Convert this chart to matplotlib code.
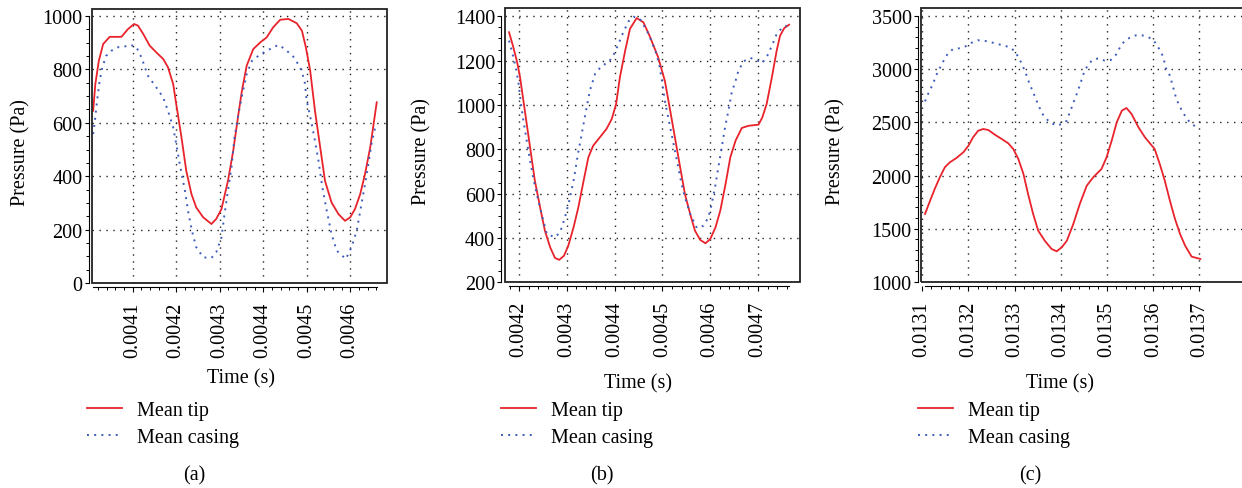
import numpy as np
import matplotlib
matplotlib.use("Agg")
import matplotlib.pyplot as plt
from matplotlib.patches import Rectangle
from matplotlib.ticker import MultipleLocator, FixedLocator, FormatStrFormatter

plt.rcParams['font.family'] = ['Liberation Serif', 'DejaVu Serif']
plt.rcParams['font.size'] = 14.5

# ---- panel (a) ----
a_tip_t = [0.004009, 0.004014, 0.004022, 0.004032, 0.004047, 0.004074, 0.004089, 0.004103,
           0.004112, 0.004124, 0.004139, 0.004154, 0.004170, 0.004181, 0.004193, 0.004200,
           0.004212, 0.004223, 0.004235, 0.004246, 0.004262, 0.004281, 0.004292, 0.004304,
           0.004319, 0.004331, 0.004343, 0.004351, 0.004362, 0.004377, 0.004393, 0.004408,
           0.004423, 0.004439, 0.004458, 0.004477, 0.004489, 0.004498, 0.004508, 0.004519,
           0.004531, 0.004542, 0.004557, 0.004573, 0.004588, 0.004600, 0.004611, 0.004623,
           0.004634, 0.004646, 0.004661]
a_tip_p = [645, 745, 832, 895, 922, 922, 951, 970,
           964, 933, 889, 864, 839, 808, 745, 670,
           546, 421, 333, 283, 246, 221, 240, 277,
           383, 495, 633, 720, 814, 876, 901, 920,
           958, 986, 989, 973, 945, 883, 795, 645,
           508, 383, 302, 258, 233, 246, 277, 333,
           408, 508, 677]
a_cas_t = [0.004009, 0.004013, 0.004018, 0.004024, 0.004030, 0.004039, 0.004051, 0.004066,
           0.004082, 0.004094, 0.004108, 0.004120, 0.004135, 0.004154, 0.004170, 0.004181,
           0.004193, 0.004200, 0.004208, 0.004220, 0.004227, 0.004236, 0.004246, 0.004262,
           0.004281, 0.004292, 0.004304, 0.004311, 0.004319, 0.004327, 0.004334, 0.004343,
           0.004352, 0.004362, 0.004374, 0.004389, 0.004408, 0.004435, 0.004450, 0.004469,
           0.004485, 0.004495, 0.004500, 0.004510, 0.004519, 0.004527, 0.004536, 0.004546,
           0.004557, 0.004569, 0.004590, 0.004603, 0.004615, 0.004626, 0.004638, 0.004649,
           0.004659]
a_cas_p = [558, 608, 683, 758, 808, 851, 870, 883,
           886, 892, 885, 845, 776, 733, 695, 645,
           583, 521, 446, 346, 271, 196, 134, 96,
           94, 115, 171, 258, 346, 433, 546, 633,
           708, 783, 832, 851, 870, 892, 876, 848,
           808, 758, 683, 608, 533, 458, 358, 271,
           184, 121, 90, 134, 196, 296, 408, 521,
           595]

# ---- panel (b) ----
b_tip_t = [0.004179, 0.004188, 0.004196, 0.004202, 0.004208, 0.004215, 0.004223, 0.004233,
           0.004244, 0.004254, 0.004265, 0.004275, 0.004284, 0.004294, 0.004303, 0.004314,
           0.004324, 0.004335, 0.004345, 0.004355, 0.004369, 0.004383, 0.004394, 0.004403,
           0.004411, 0.004422, 0.004432, 0.004446, 0.004460, 0.004473, 0.004491, 0.004505,
           0.004515, 0.004526, 0.004537, 0.004547, 0.004558, 0.004568, 0.004579, 0.004590,
           0.004600, 0.004611, 0.004621, 0.004632, 0.004642, 0.004653, 0.004666, 0.004680,
           0.004701, 0.004709, 0.004718, 0.004729, 0.004739, 0.004746, 0.004755, 0.004765]
b_tip_p = [1328, 1260, 1192, 1125, 1035, 929, 809, 658,
           538, 433, 358, 310, 301, 320, 365, 448,
           538, 658, 764, 816, 854, 892, 937, 1004,
           1125, 1245, 1343, 1392, 1373, 1312, 1215, 1109,
           989, 854, 719, 598, 508, 433, 391, 376,
           395, 448, 523, 643, 764, 839, 896, 906,
           911, 944, 1004, 1125, 1245, 1312, 1347, 1362]
b_cas_t = [0.004179, 0.004186, 0.004193, 0.004199, 0.004204, 0.004209, 0.004216, 0.004223,
           0.004230, 0.004237, 0.004247, 0.004258, 0.004275, 0.004286, 0.004296, 0.004305,
           0.004314, 0.004322, 0.004331, 0.004340, 0.004348, 0.004359, 0.004373, 0.004387,
           0.004397, 0.004408, 0.004418, 0.004429, 0.004439, 0.004453, 0.004471, 0.004485,
           0.004493, 0.004499, 0.004505, 0.004512, 0.004519, 0.004526, 0.004533, 0.004540,
           0.004547, 0.004558, 0.004572, 0.004586, 0.004596, 0.004603, 0.004610, 0.004617,
           0.004624, 0.004631, 0.004638, 0.004645, 0.004653, 0.004659, 0.004670, 0.004684,
           0.004697, 0.004708, 0.004718, 0.004729, 0.004739, 0.004750, 0.004760]
b_cas_p = [1290, 1233, 1170, 1095, 1004, 929, 839, 749,
           666, 598, 508, 418, 403, 426, 493, 568,
           658, 764, 869, 974, 1064, 1140, 1177, 1192,
           1222, 1275, 1328, 1377, 1398, 1388, 1320, 1245,
           1185, 1109, 1019, 944, 869, 794, 719, 643,
           583, 508, 445, 455, 493, 553, 629, 719,
           809, 899, 974, 1057, 1109, 1155, 1197, 1212,
           1203, 1188, 1215, 1267, 1320, 1347, 1358]

# ---- panel (c) ----
c_tip_t = [0.013106, 0.013117, 0.013127, 0.013138, 0.013149, 0.013160, 0.013174, 0.013189,
           0.013200, 0.013210, 0.013221, 0.013232, 0.013243, 0.013257, 0.013272, 0.013286,
           0.013297, 0.013308, 0.013319, 0.013329, 0.013340, 0.013351, 0.013366, 0.013380,
           0.013391, 0.013402, 0.013413, 0.013427, 0.013441, 0.013456, 0.013470, 0.013488,
           0.013499, 0.013510, 0.013521, 0.013532, 0.013542, 0.013553, 0.013568, 0.013582,
           0.013594, 0.013603, 0.013614, 0.013625, 0.013636, 0.013647, 0.013658, 0.013669,
           0.013683, 0.013702]
c_tip_p = [1638, 1763, 1873, 1983, 2078, 2125, 2165, 2219,
           2281, 2360, 2422, 2438, 2429, 2385, 2344, 2304,
           2250, 2156, 2015, 1826, 1638, 1480, 1381, 1308,
           1286, 1324, 1386, 1544, 1732, 1904, 1983, 2062,
           2172, 2328, 2502, 2611, 2636, 2580, 2454, 2360,
           2297, 2250, 2109, 1951, 1763, 1591, 1449, 1339,
           1236, 1214]
c_cas_t = [0.013106, 0.013112, 0.013118, 0.013124, 0.013129, 0.013135, 0.013142, 0.013149,
           0.013156, 0.013167, 0.013182, 0.013194, 0.013207, 0.013220, 0.013234, 0.013249,
           0.013263, 0.013277, 0.013290, 0.013301, 0.013309, 0.013315, 0.013321, 0.013326,
           0.013331, 0.013337, 0.013342, 0.013348, 0.013353, 0.013358, 0.013367, 0.013376,
           0.013391, 0.013403, 0.013413, 0.013418, 0.013423, 0.013428, 0.013433, 0.013438,
           0.013443, 0.013447, 0.013452, 0.013459, 0.013469, 0.013482, 0.013495, 0.013508,
           0.013519, 0.013532, 0.013544, 0.013558, 0.013571, 0.013585, 0.013597, 0.013607,
           0.013614, 0.013621, 0.013628, 0.013636, 0.013643, 0.013650, 0.013658, 0.013665,
           0.013672, 0.013681, 0.013694, 0.013700]
c_cas_p = [2699, 2762, 2815, 2872, 2931, 2988, 3044, 3104,
           3152, 3192, 3199, 3217, 3251, 3274, 3270, 3255,
           3239, 3223, 3208, 3167, 3107, 3057, 2994, 2941,
           2878, 2815, 2762, 2699, 2649, 2592, 2542, 2502,
           2470, 2486, 2517, 2580, 2636, 2696, 2752, 2812,
           2875, 2935, 2988, 3044, 3091, 3104, 3082, 3088,
           3136, 3239, 3286, 3317, 3324, 3312, 3286, 3239,
           3183, 3123, 3004, 2941, 2831, 2721, 2643, 2589,
           2539, 2492, 2454, 2438]

RED = '#e8232b'
BLUE = '#3d5cba'

fig = plt.figure(figsize=(12.42, 4.89), dpi=100)

panels = [
    # axes rect, xlim, ylim, y major, y minor, letter, xlabel pos, ylabel pos, legend pos
    dict(rect=[0.0741, 0.4192, 0.2375, 0.5613], xlim=(0.0040064, 0.0046846), ylim=(0, 1028),
         ymaj=200, ymin=50, tag='(a)', tagx=194, xlab=(0.504, -0.346), ylab=(-0.242, 0.48),
         leg=87, data=(a_tip_t, a_tip_p, a_cas_t, a_cas_p)),
    dict(rect=[0.4064, 0.4207, 0.2378, 0.5603], xlim=(0.0041700, 0.0047880), ylim=(200, 1436),
         ymaj=200, ymin=50, tag='(b)', tagx=602, xlab=(0.451, -0.3675), ylab=(-0.279, 0.48),
         leg=501, data=(b_tip_t, b_tip_p, b_cas_t, b_cas_p)),
    dict(rect=[0.7418, 0.4219, 0.2606, 0.5591], xlim=(0.0130980, 0.0137985), ylim=(1000, 3575),
         ymaj=500, ymin=100, tag='(c)', tagx=1030, xlab=(0.4285, -0.3705), ylab=(-0.2626, 0.48),
         leg=918, data=(c_tip_t, c_tip_p, c_cas_t, c_cas_p)),
]

for p in panels:
    ax = fig.add_axes(p['rect'])
    tip_t, tip_p, cas_t, cas_p = p['data']
    l1, = ax.plot(tip_t, tip_p, color=RED, lw=1.3, label='Mean tip', zorder=3)
    l2, = ax.plot(cas_t, cas_p, color=BLUE, lw=1.4, linestyle=(0, (1, 2.7)),
                  label='Mean casing', zorder=3)
    ax.set_xlim(*p['xlim'])
    ax.set_ylim(*p['ylim'])

    # box frame
    ax.add_patch(Rectangle((0, 0), 1, 1, transform=ax.transAxes, fill=False,
                           edgecolor='#222222', lw=1.3, clip_on=False, zorder=4))
    for s in ['top', 'right']:
        ax.spines[s].set_visible(False)
    ax.spines['left'].set_position(('outward', 2.5))
    ax.spines['bottom'].set_position(('outward', 3))
    ax.spines['left'].set_linewidth(0.8)
    ax.spines['bottom'].set_linewidth(0.8)

    lo, hi = tip_t[0], tip_t[-1]
    ax.spines['bottom'].set_bounds(lo, hi)
    ax.spines['left'].set_bounds(p['ylim'][0], np.floor(p['ylim'][1] / p['ymaj']) * p['ymaj'])

    ax.xaxis.set_major_locator(MultipleLocator(0.0001))
    ax.xaxis.set_major_formatter(FormatStrFormatter('%.4f'))
    step = 0.00002
    ax.xaxis.set_minor_locator(FixedLocator(np.arange(np.ceil(lo / step - 1e-6) * step, hi + 1e-9, step)))
    ax.yaxis.set_major_locator(MultipleLocator(p['ymaj']))
    ax.yaxis.set_minor_locator(MultipleLocator(p['ymin']))

    ax.tick_params(axis='x', which='major', direction='out', length=3.5, width=0.8,
                   pad=7, labelrotation=90, labelsize=14.5)
    ax.tick_params(axis='x', which='minor', direction='out', length=2, width=0.7)
    ax.tick_params(axis='y', which='major', direction='out', length=3, width=0.8,
                   pad=1.5, labelsize=14.5)
    ax.tick_params(axis='y', which='minor', direction='out', length=2, width=0.7)

    ax.grid(True, which='major', color='#222222', lw=1.0, linestyle=(0, (1, 4)))
    ax.set_axisbelow(True)

    ax.set_xlabel('Time (s)', fontsize=14.5, va='center')
    ax.xaxis.set_label_coords(*p['xlab'])
    ax.set_ylabel('Pressure (Pa)', fontsize=14.5, va='center')
    ax.yaxis.set_label_coords(*p['ylab'])

    ax.legend(handles=[l1, l2], loc='upper left', frameon=False,
              bbox_to_anchor=(p['leg'] / 1242, 1 - 402 / 489), bbox_transform=fig.transFigure,
              borderpad=0, borderaxespad=0, handlelength=1.75, handletextpad=0.75,
              labelspacing=0.4, fontsize=14.5)

    fig.text(p['tagx'] / 1242, 1 - 476 / 489, p['tag'], ha='center', va='center', fontsize=14.5)

fig.savefig('out.png', dpi=100)
